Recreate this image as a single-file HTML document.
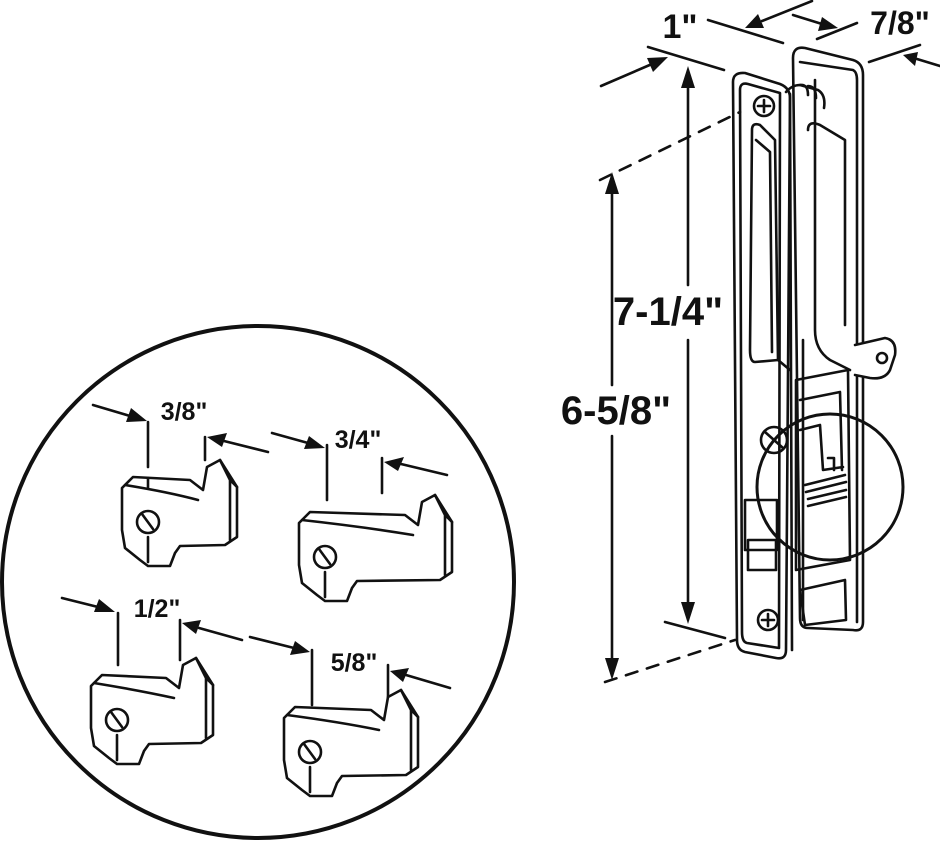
<!DOCTYPE html>
<html><head><meta charset="utf-8"><style>
html,body{margin:0;padding:0;background:#fff}
svg{display:block}
text{font-family:"Liberation Sans",Arial,sans-serif;font-weight:bold;fill:#111}
</style></head><body>
<svg width="940" height="844" viewBox="0 0 940 844" xmlns="http://www.w3.org/2000/svg">
<g fill="none" stroke="#111" stroke-width="2.6" stroke-linejoin="round" stroke-linecap="round">
<circle cx="258" cy="582" r="256" stroke-width="4"/>
<g transform="translate(148,522)">
<path fill="#fff" d="M-26,-34 L-15,-45 L42,-42 L55,-32 L59,-55 L72,-62 L89,-35 L89,15 L77,23 L32,24 L27,31 L22,44 L0,44 L-8,38 L-23,26 L-26,8 Z"/>
<path d="M-23,-37 Q20,-30 50,-22 M72,-62 L82,-42 L89,-35 M82,-42 L82,18"/>
<circle cx="0" cy="0" r="11"/><path d="M-6,-8 L5,7"/>
<path d="M0,-100 L0,-55 M0,-44 L0,-34 M0,15 L0,40" />
<path d="M57,-85 L57,-62"/>
</g>
<g transform="translate(325,557)">
<path fill="#fff" d="M-26,-34 L-15,-45 L80,-42 L93,-32 L97,-55 L110,-62 L127,-35 L127,15 L115,23 L32,24 L27,31 L22,44 L0,44 L-8,38 L-23,26 L-26,8 Z"/>
<path d="M-23,-37 Q40,-30 88,-22 M110,-62 L120,-42 L127,-35 M120,-42 L120,18"/>
<circle cx="0" cy="0" r="11"/><path d="M-6,-8 L5,7"/>
<path d="M2,-112 L2,-57 M0,15 L0,40"/>
<path d="M57,-99 L57,-64"/>
</g>
<g transform="translate(117,720)">
<path fill="#fff" d="M-26,-34 L-15,-45 L49,-42 L62,-32 L66,-55 L79,-62 L96,-35 L96,15 L84,23 L32,24 L27,31 L22,44 L0,44 L-8,38 L-23,26 L-26,8 Z"/>
<path d="M-23,-37 Q20,-30 57,-22 M79,-62 L89,-42 L96,-35 M89,-42 L89,18"/>
<circle cx="0" cy="0" r="11"/><path d="M-6,-8 L5,7"/>
<path d="M1,-107 L1,-55 M0,15 L0,40"/>
<path d="M63,-100 L63,-60"/>
</g>
<g transform="translate(310,752)">
<path fill="#fff" d="M-26,-34 L-15,-45 L61,-42 L74,-32 L78,-55 L91,-62 L108,-35 L108,15 L96,23 L32,24 L27,31 L22,44 L0,44 L-8,38 L-23,26 L-26,8 Z"/>
<path d="M-23,-37 Q30,-30 69,-22 M91,-62 L101,-42 L108,-35 M101,-42 L101,18"/>
<circle cx="0" cy="0" r="11"/><path d="M-6,-8 L5,7"/>
<path d="M2,-102 L2,-47 M0,15 L0,40"/>
<path d="M78,-87 L78,-55"/>
</g>
<path d="M93,405 L130,416 M268,452 L224,441 M272,433 L308,443 M447,475 L401,464 M62,598 L98,607 M242,640 L199,628 M250,637 L294,648 M450,688 L406,675"/>
<path fill="#fff" d="M793,58 Q793,46 805,48 L853,60 Q863,63 863,75 L863,622 Q863,632 853,630 L808,628 Q800,628 800,618 Z"/>
<path d="M800,62 L853,70 Q857,72 857,80 L857,622"/>
<path d="M803,340 L803,620 M815,80 L815,330 Q815,350 830,360 L850,370"/>
<path d="M808,130 Q808,120 820,125 L845,140 L845,325"/>
<path fill="#fff" d="M855,345 L885,338 Q897,340 895,355 L890,370 Q885,380 870,378 L855,375"/>
<circle cx="882" cy="358" r="5"/>
<path fill="#fff" d="M733,82 Q733,72 745,73 L780,84 Q790,88 790,98 L786,650 Q786,660 776,658 L745,652 Q737,650 737,640 Z"/>
<path d="M740,90 Q740,82 748,84 L780,93 L779,648 L747,643 Q742,642 742,632 Z"/>
<path d="M790,94 L792,650 M786,92 Q792,85 800,85 L818,90 Q826,95 824,108"/>
<path d="M800,85 Q808,84 808,95 M808,86 Q816,86 816,98"/>
<path d="M752,130 Q752,122 760,125 L775,140 L778,360 L755,362 Q750,362 750,350 Z"/>
<path d="M756,140 L770,152 L772,352 M778,360 L790,370"/>
<circle cx="764" cy="106" r="10"/><path d="M758,106 L770,106 M764,100 L764,112"/>
<circle cx="768" cy="620" r="10"/><path d="M762,620 L774,620 M768,614 L768,626"/>
<path d="M796,380 L848,370 L850,560 L796,570 Z"/>
<path d="M800,400 L840,392 L842,470 M800,430 L820,425 L823,470 L843,467 M805,485 L845,475 M806,492 L846,482 M808,499 L846,490 M808,506 L846,497 M828,458 L834,458 L834,470"/>
<rect x="745" y="500" width="32" height="50"/>
<rect x="748" y="540" width="28" height="30"/>
<circle cx="774" cy="440" r="13"/><path d="M765,432 L783,448"/>
<path d="M800,590 L845,580 L846,620 L805,625 Z"/>
<circle cx="830" cy="487" r="73" stroke-width="3"/>
<path d="M648,47 L724,70 M708,20 L783,43 M817,39 L857,23 M869,62 L920,45 M665,622 L725,638"/>
<path d="M601,86 L652,64 M812,1 L762,21 M793,15 L822,24 M940,66 L917,59"/>
<path d="M688,85 L688,285 M688,340 L688,605"/>
<path d="M612,190 L612,385 M612,436 L612,660"/>
<path stroke-dasharray="12,10" d="M600,180 L740,112 M605,682 L735,640"/>
</g>
<g fill="#111">
<polygon points="147,421 126,422 131,408"/>
<polygon points="207,437 222,447 227,433"/>
<polygon points="325,448 304,449 309,436"/>
<polygon points="384,462 398,471 404,457"/>
<polygon points="115,612 94,612 99,599"/>
<polygon points="182,623 196,634 201,620"/>
<polygon points="310,652 290,655 295,641"/>
<polygon points="390,671 403,682 409,668"/>
<polygon points="668,57 653,72 647,58"/>
<polygon points="745,28 758,14 764,28"/>
<polygon points="838,28 818,31 822,17"/>
<polygon points="903,55 918,52 915,66"/>
<polygon points="688,66 681,88 695,88"/>
<polygon points="688,624 681,602 695,602"/>
<polygon points="612,172 605,194 619,194"/>
<polygon points="612,680 605,658 619,658"/>
</g>
<text x="680" y="38" font-size="34" text-anchor="middle">1"</text>
<text x="900" y="34" font-size="32" text-anchor="middle">7/8"</text>
<text x="668" y="325" font-size="40" text-anchor="middle">7-1/4"</text>
<text x="616" y="424" font-size="40" text-anchor="middle">6-5/8"</text>
<text x="184" y="420" font-size="25" text-anchor="middle">3/8"</text>
<text x="358" y="448" font-size="25" text-anchor="middle">3/4"</text>
<text x="157" y="617" font-size="25" text-anchor="middle">1/2"</text>
<text x="354" y="671" font-size="25" text-anchor="middle">5/8"</text>
</svg>
</body></html>
